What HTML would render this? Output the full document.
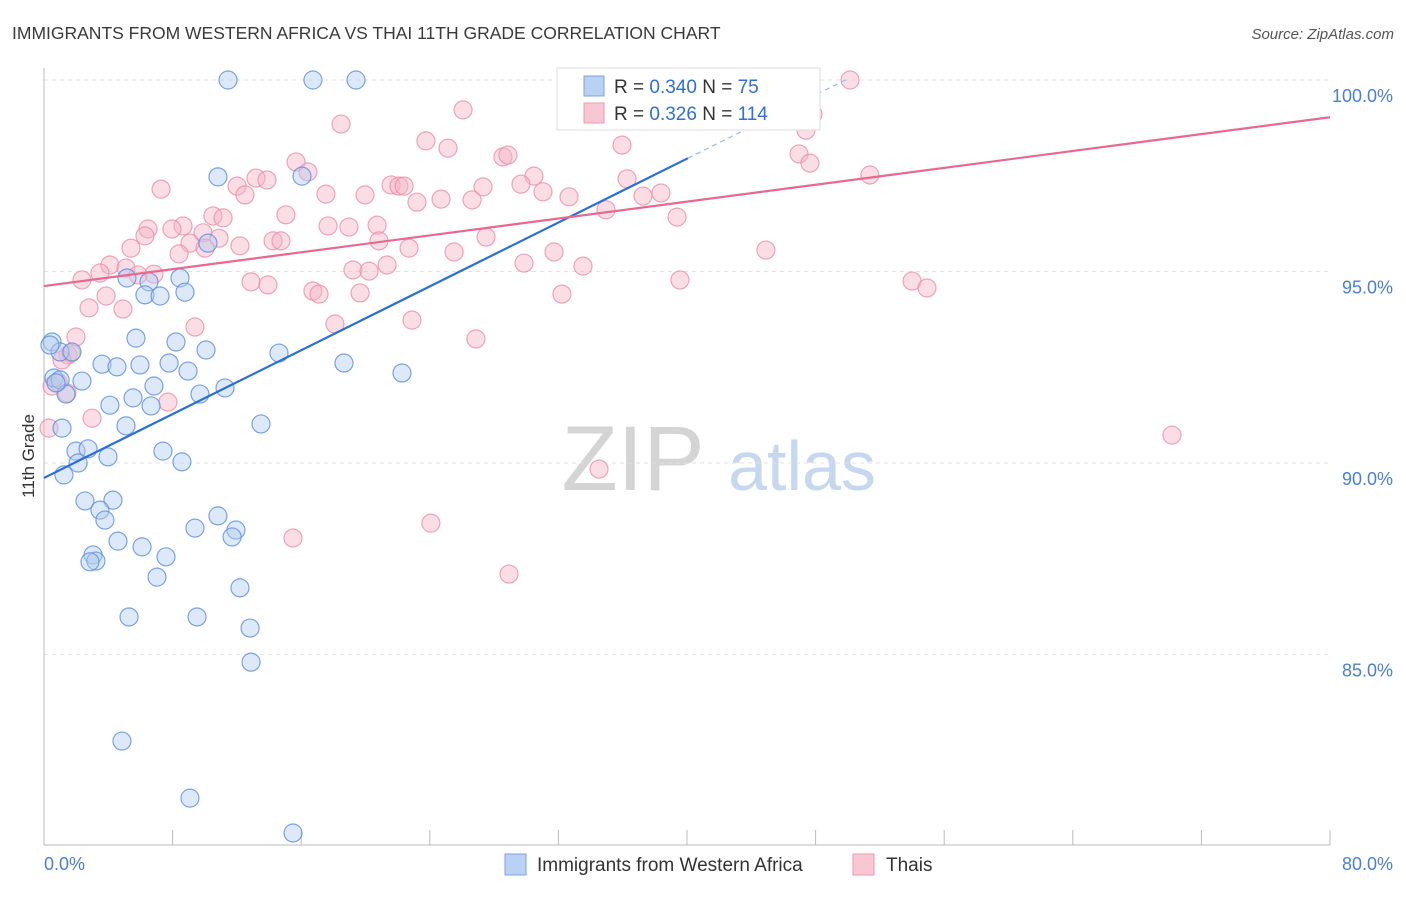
<!DOCTYPE html>
<html><head><meta charset="utf-8"><style>
body{margin:0;background:#fff;font-family:"Liberation Sans",sans-serif;}
svg text{font-family:"Liberation Sans",sans-serif;}
</style></head><body>
<svg id="chart" width="1406" height="892" viewBox="0 0 1406 892" xmlns="http://www.w3.org/2000/svg">
<text x="12" y="39" font-size="17.5" fill="#3a3a3a">IMMIGRANTS FROM WESTERN AFRICA VS THAI 11TH GRADE CORRELATION CHART</text>
<text x="1394" y="39" font-size="15" fill="#555" text-anchor="end" font-style="italic">Source: ZipAtlas.com</text>
<g>
<text x="633" y="490" font-size="92" fill="#d4d4d4" font-family="Liberation Serif, serif" text-anchor="middle">ZIP</text>
<text x="802" y="490" font-size="70" fill="#c5d8f0" text-anchor="middle">atlas</text>
</g>
<g id="grid"></g>
<g id="axes"></g>
<g id="marks"></g>
<g id="trend"></g>
<text transform="translate(34,456) rotate(-90)" font-size="17" fill="#333" text-anchor="middle">11th Grade</text>
<g>
<rect x="557" y="68" width="263" height="62" fill="#fff" stroke="#ddd"/>
<rect x="584" y="76" width="20" height="20" fill="#b9d1f3" stroke="#7aa5e0"/>
<text x="614" y="93" font-size="19" fill="#333">R = <tspan fill="#2f6fd6">0.340</tspan>   N = <tspan fill="#2f6fd6"> 75</tspan></text>
<rect x="584" y="103" width="20" height="20" fill="#f9c6d4" stroke="#ee9ab2"/>
<text x="614" y="120" font-size="19" fill="#333">R = <tspan fill="#2f6fd6">0.326</tspan>   N = <tspan fill="#2f6fd6">114</tspan></text>
</g>
<g>
<rect x="505" y="854" width="21" height="21" fill="#b9d1f3" stroke="#7aa5e0"/>
<text x="537" y="871" font-size="19" fill="#333">Immigrants from Western Africa</text>
<rect x="853" y="854" width="21" height="21" fill="#f9c6d4" stroke="#ee9ab2"/>
<text x="886" y="871" font-size="19" fill="#333">Thais</text>
</g>
</svg>
<script>
const xTicks=[0,8,16,24,32,40,48,56,64,72,80];
const yTickVals=[85,90,95,100];
const yTickLabels=["85.0%","90.0%","95.0%","100.0%"];
const xEndLabels=["0.0%","80.0%"];
const blueX=[11.45,16.73,19.41,10.82,16.05,10.2,5.16,8.46,6.53,6.28,7.22,8.77,0.5,5.72,8.21,10.08,14.62,18.66,22.27,1.0,1.74,3.61,4.54,5.97,7.78,8.96,0.62,1.0,2.36,6.84,11.26,9.7,1.37,4.1,5.54,6.66,5.1,13.5,1.12,1.99,2.74,2.12,3.98,7.4,8.58,1.24,2.55,4.29,3.48,3.79,10.82,9.39,11.94,11.7,4.6,6.1,7.59,3.05,3.23,2.86,7.03,12.19,5.29,9.52,12.82,12.88,4.85,9.08,15.49,0.37,0.75];
const blueY=[100,100,100,97.47,97.49,95.74,94.83,94.83,94.73,94.39,94.36,94.46,93.16,93.26,93.16,92.95,92.87,92.61,92.35,92.9,92.9,92.58,92.51,92.56,92.61,92.4,92.22,92.17,92.14,92.01,91.96,91.8,91.8,91.51,91.7,91.49,90.97,91.02,90.91,90.31,90.37,90.0,90.16,90.31,90.03,89.69,89.01,89.03,88.77,88.51,88.62,88.3,88.25,88.07,87.96,87.81,87.55,87.6,87.44,87.42,87.02,86.74,85.98,85.98,85.69,84.8,82.74,81.25,80.34,93.08,92.09];
const pinkX=[50.14,32.91,43.3,37.26,26.07,18.48,47.84,47.4,23.76,25.13,35.96,15.68,28.55,28.86,16.42,46.97,47.65,51.38,36.27,30.48,7.28,12.01,13.19,13.87,21.59,22.08,22.4,27.31,29.67,17.54,19.97,31.04,37.26,38.38,12.5,32.66,24.7,26.63,23.2,34.96,39.38,10.51,11.14,15.05,6.47,8.65,6.28,7.96,9.89,17.67,18.97,20.72,10.89,9.08,10.02,12.19,14.25,14.74,20.84,22.71,27.5,31.73,44.91,25.51,8.4,5.41,4.1,5.1,6.84,5.85,2.36,3.48,29.86,33.53,21.34,19.22,20.22,12.88,13.93,39.56,54.0,54.93,16.73,17.11,19.66,32.22,3.86,2.8,4.91,9.39,22.89,18.1,1.99,26.87,1.49,1.68,1.12,0.87,0.5,1.43,2.99,7.71,70.17,34.53,0.31,24.07,15.49,28.93];
const pinkY=[100,100,100,100,99.22,98.85,99.11,98.69,98.41,98.22,98.3,97.86,97.99,98.04,97.6,98.07,97.83,97.52,97.42,97.49,97.15,97.23,97.44,97.39,97.26,97.23,97.23,97.21,97.28,97.02,97.0,97.08,96.97,97.05,97.0,96.95,96.89,96.87,96.81,96.61,96.42,96.45,96.4,96.48,96.11,96.19,95.93,96.11,96.01,96.19,96.16,96.21,95.87,95.74,95.61,95.67,95.8,95.8,95.8,95.61,95.9,95.51,95.56,95.51,95.46,95.61,95.17,95.09,94.93,94.91,94.78,94.96,95.22,95.14,95.17,95.04,95.01,94.73,94.65,94.78,94.75,94.57,94.49,94.41,94.44,94.41,94.36,94.05,94.02,93.55,93.73,93.63,93.29,93.24,92.82,92.87,92.69,92.11,92.01,91.83,91.17,91.59,90.73,89.84,90.91,88.43,88.04,87.1];
const blueTrend=[89.61,0.2084];
const pinkTrend=[94.62,0.0551];
const NS="http://www.w3.org/2000/svg";
const X0=44,X1=1330,XMIN=0,XMAX=80,Y100=80,PXPER=38.3;
function sx(v){return X0+(v-XMIN)/(XMAX-XMIN)*(X1-X0);}
function sy(v){return Y100+(100-v)*PXPER;}
function mk(tag,attrs,parent){const e=document.createElementNS(NS,tag);for(const k in attrs)e.setAttribute(k,attrs[k]);parent.appendChild(e);return e;}
const grid=document.getElementById('grid'),axes=document.getElementById('axes'),marks=document.getElementById('marks'),trend=document.getElementById('trend');
yTickVals.forEach((v,i)=>{
  const l=mk('line',{x1:X0,x2:X1,y1:sy(v),y2:sy(v),stroke:'#e2e2e2','stroke-dasharray':'4,4'},grid);
  
  
  const t=mk('text',{x:1393,y:sy(v)+22,'font-size':18,fill:'#4a7fd6','text-anchor':'end'},axes);
  t.textContent=yTickLabels[i];
  
  
});
const ya=mk('line',{x1:X0,x2:X0,y1:68,y2:845,stroke:'#bbb'},axes);


const xa=mk('line',{x1:X0,x2:X1,y1:845,y2:845,stroke:'#bbb'},axes);


xTicks.forEach(v=>{
  const t=mk('line',{x1:sx(v),x2:sx(v),y1:830,y2:845,stroke:'#bbb'},axes);
  
  
});
[[xTicks[0],'start',44],[xTicks[xTicks.length-1],'end',1393]].forEach((a,i)=>{
  const t=mk('text',{x:a[2],y:870,'font-size':18,fill:'#4a7fd6','text-anchor':a[1]},axes);
  t.textContent=xEndLabels[i];
  
  
});
function dots(xs,ys,fill,stroke,name){
  xs.forEach((x,i)=>{
    const c=mk('circle',{cx:sx(x),cy:sy(ys[i]),r:9,fill:fill,'fill-opacity':0.45,stroke:stroke,'stroke-width':1.2,'stroke-opacity':0.8},marks);
    
    
  });
}
dots(pinkX,pinkY,'#f5b3c6','#ec8fab','thais-point');
dots(blueX,blueY,'#b3cdf0','#5b8fe0','western-africa-point');
const bxEnd=40.06;
const bl=mk('line',{x1:sx(0),y1:sy(blueTrend[0]),x2:sx(bxEnd),y2:sy(blueTrend[0]+blueTrend[1]*bxEnd),stroke:'#2a6fd8','stroke-width':2.2},trend);


const bd=mk('line',{x1:sx(bxEnd),y1:sy(blueTrend[0]+blueTrend[1]*bxEnd),x2:sx(50),y2:sy(blueTrend[0]+blueTrend[1]*50),stroke:'#9bbcea','stroke-width':1.2,'stroke-dasharray':'5,4'},trend);


const pl=mk('line',{x1:sx(0),y1:sy(pinkTrend[0]),x2:sx(80),y2:sy(pinkTrend[0]+pinkTrend[1]*80),stroke:'#e8688f','stroke-width':2.2},trend);


</script>
</body></html>
